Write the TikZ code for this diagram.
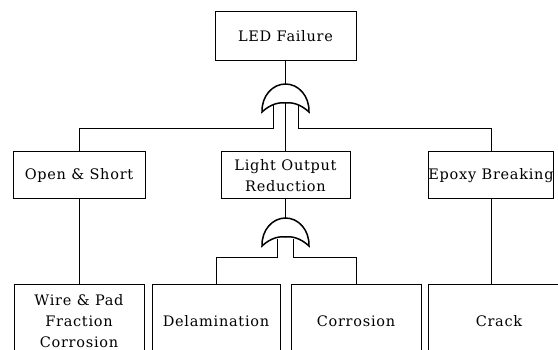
\documentclass[tikz,border=0pt]{standalone}
\usepackage{fontspec}
\setmainfont[LetterSpace=5]{DejaVu Serif}
\begin{document}
\begin{tikzpicture}[x=1pt,y=-1pt,
  event/.style={draw, line width=1pt, align=center, inner sep=0pt,
    font=\fontsize{14.5}{21}\selectfont},
  link/.style={line width=1pt},
  orgate/.pic={
    \draw[line width=1.5pt] (-23.5,28) .. controls (-24,12) and (-13,0) .. (0,0)
      .. controls (13,0) and (24,12) .. (23.5,28)
      .. controls (15,20) and (6,18) .. (0,19)
      .. controls (-6,18) and (-15,20) .. (-23.5,28) -- cycle;
    \coordinate (-top) at (0,0);
    \coordinate (-c) at (0,19);
    \coordinate (-l) at (-#1,21);
    \coordinate (-r) at (#1,21);
  }]
\useasboundingbox (0,0) rectangle (558,350);
\clip (0,0) rectangle (558,350);
% events
\node[event, minimum width=141, minimum height=49] (led) at (285.5,36.5) {LED Failure};
\node[event, minimum width=132, minimum height=47] (open) at (79,175.5) {Open \& Short};
\node[event, minimum width=129, minimum height=47] (light) at (285.5,175.5) {Light Output\\Reduction};
\node[event, minimum width=124, minimum height=47] (epoxy) at (491,175.5) {Epoxy Breaking};
\node[event, minimum width=130, minimum height=72] (wire) at (79,321) {Wire \& Pad\\Fraction\\Corrosion};
\node[event, minimum width=128, minimum height=72] (delam) at (216,321) {Delamination};
\node[event, minimum width=130, minimum height=72] (corr) at (356,321) {Corrosion};
\node[event, minimum width=142, minimum height=72] (crack) at (499,321) {Crack};
% gates
\pic (g1) at (285.5,84) {orgate=12.5};
\pic (g2) at (285.5,218) {orgate=8};
% links
\draw[link] (led.south) -- (g1-top);
\draw[link] (g1-c) -- (light.north);
\draw[link] (g1-l) |- ([yshift=23pt]open.north) -- (open.north);
\draw[link] (g1-r) |- ([yshift=23pt]epoxy.north) -- (epoxy.north);
\draw[link] (light.south) -- (g2-top);
\draw[link] (g2-l) |- ([yshift=27pt]delam.north) -- (delam.north);
\draw[link] (g2-r) |- ([yshift=27pt]corr.north) -- (corr.north);
\draw[link] (open.south) -- (wire.north);
\draw[link] (epoxy.south) -- (epoxy.south |- crack.north);
\end{tikzpicture}
\end{document}
